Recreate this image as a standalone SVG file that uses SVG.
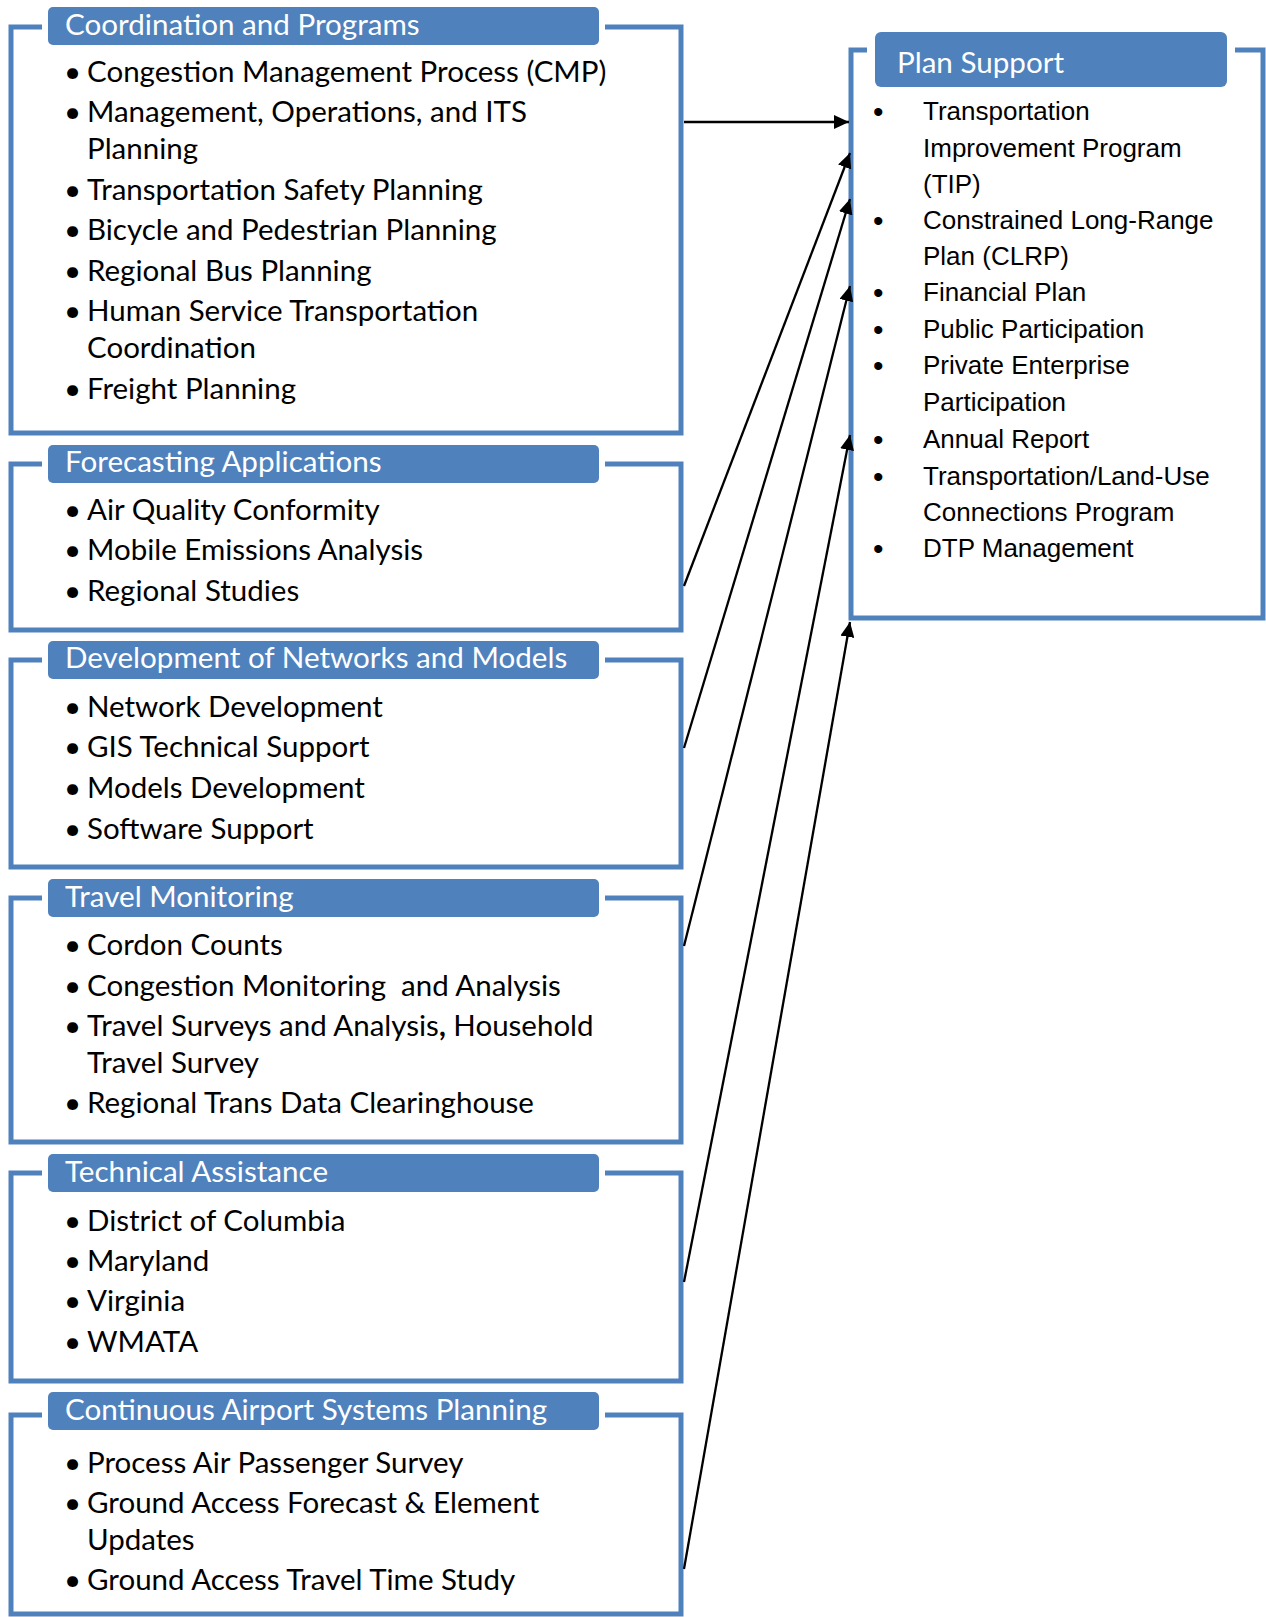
<svg xmlns="http://www.w3.org/2000/svg" width="1266" height="1617" viewBox="0 0 1266 1617">
<style>
.frame{fill:none;stroke:#4F81BD;stroke-width:5;stroke-linejoin:miter}
.hdr{fill:#4F81BD}
.ht{font-family:Lato,"Liberation Sans",sans-serif;font-size:29.6px;fill:#fff}
.t{font-family:Lato,"Liberation Sans",sans-serif;font-size:29.5px;fill:#000}
.ps{font-family:"Liberation Sans",Arial,sans-serif;font-size:26px;fill:#000}
.pb{font-size:30px}
.conn line{stroke:#000;stroke-width:2.3;marker-end:url(#ah)}
</style>
<defs>
<marker id="ah" markerUnits="userSpaceOnUse" markerWidth="16" markerHeight="14" refX="15" refY="7" orient="auto">
<path d="M0,0 L15,7 L0,14 Z" fill="#000"/>
</marker>
</defs>
<rect width="1266" height="1617" fill="#fff"/>

<g id="coordination">
<path class="frame" d="M42,27 H11 V433 H681 V27 H605"/>
<rect class="hdr" x="48" y="7" width="551" height="38" rx="5"/>
<text class="ht" x="65" y="35">Coordination and Programs</text>
<text class="t" x="87" y="82"><tspan x="64">•</tspan><tspan x="87">Congestion Management Process (CMP)</tspan></text>
<text class="t" x="87" y="122"><tspan x="64">•</tspan><tspan x="87">Management, Operations, and ITS</tspan></text>
<text class="t" x="87" y="159">Planning</text>
<text class="t" x="87" y="199.5"><tspan x="64">•</tspan><tspan x="87">Transportation Safety Planning</tspan></text>
<text class="t" x="87" y="240"><tspan x="64">•</tspan><tspan x="87">Bicycle and Pedestrian Planning</tspan></text>
<text class="t" x="87" y="280.5"><tspan x="64">•</tspan><tspan x="87">Regional Bus Planning</tspan></text>
<text class="t" x="87" y="321"><tspan x="64">•</tspan><tspan x="87">Human Service Transportation</tspan></text>
<text class="t" x="87" y="358">Coordination</text>
<text class="t" x="87" y="398.5"><tspan x="64">•</tspan><tspan x="87">Freight Planning</tspan></text>
</g>

<g id="forecasting">
<path class="frame" d="M42,464 H11 V630 H681 V464 H605"/>
<rect class="hdr" x="48" y="445" width="551" height="38" rx="5"/>
<text class="ht" x="65" y="472">Forecasting Applications</text>
<text class="t" x="87" y="520"><tspan x="64">•</tspan><tspan x="87">Air Quality Conformity</tspan></text>
<text class="t" x="87" y="560"><tspan x="64">•</tspan><tspan x="87">Mobile Emissions Analysis</tspan></text>
<text class="t" x="87" y="601"><tspan x="64">•</tspan><tspan x="87">Regional Studies</tspan></text>
</g>

<g id="networks">
<path class="frame" d="M42,660 H11 V867 H681 V660 H605"/>
<rect class="hdr" x="48" y="641" width="551" height="38" rx="5"/>
<text class="ht" x="65" y="668">Development of Networks and Models</text>
<text class="t" x="87" y="717"><tspan x="64">•</tspan><tspan x="87">Network Development</tspan></text>
<text class="t" x="87" y="757"><tspan x="64">•</tspan><tspan x="87">GIS Technical Support</tspan></text>
<text class="t" x="87" y="798"><tspan x="64">•</tspan><tspan x="87">Models Development</tspan></text>
<text class="t" x="87" y="839"><tspan x="64">•</tspan><tspan x="87">Software Support</tspan></text>
</g>

<g id="travel-monitoring">
<path class="frame" d="M42,898 H11 V1142 H681 V898 H605"/>
<rect class="hdr" x="48" y="879" width="551" height="38" rx="5"/>
<text class="ht" x="65" y="907">Travel Monitoring</text>
<text class="t" x="87" y="955"><tspan x="64">•</tspan><tspan x="87">Cordon Counts</tspan></text>
<text class="t" x="87" y="996" xml:space="preserve"><tspan x="64">•</tspan><tspan x="87">Congestion Monitoring  and Analysis</tspan></text>
<text class="t" x="87" y="1036"><tspan x="64">•</tspan><tspan x="87">Travel Surveys and Analysis<tspan font-weight="bold">,</tspan> Household</tspan></text>
<text class="t" x="87" y="1073">Travel Survey</text>
<text class="t" x="87" y="1113"><tspan x="64">•</tspan><tspan x="87">Regional Trans Data Clearinghouse</tspan></text>
</g>

<g id="technical-assistance">
<path class="frame" d="M42,1173 H11 V1381 H681 V1173 H605"/>
<rect class="hdr" x="48" y="1154" width="551" height="38" rx="5"/>
<text class="ht" x="65" y="1182">Technical Assistance</text>
<text class="t" x="87" y="1231"><tspan x="64">•</tspan><tspan x="87">District of Columbia</tspan></text>
<text class="t" x="87" y="1271"><tspan x="64">•</tspan><tspan x="87">Maryland</tspan></text>
<text class="t" x="87" y="1311"><tspan x="64">•</tspan><tspan x="87">Virginia</tspan></text>
<text class="t" x="87" y="1352"><tspan x="64">•</tspan><tspan x="87">WMATA</tspan></text>
</g>

<g id="airport">
<path class="frame" d="M42,1415 H11 V1614 H681 V1415 H605"/>
<rect class="hdr" x="48" y="1392" width="551" height="38" rx="5"/>
<text class="ht" x="65" y="1420">Continuous Airport Systems Planning</text>
<text class="t" x="87" y="1473"><tspan x="64">•</tspan><tspan x="87">Process Air Passenger Survey</tspan></text>
<text class="t" x="87" y="1513"><tspan x="64">•</tspan><tspan x="87">Ground Access Forecast &amp; Element</tspan></text>
<text class="t" x="87" y="1550">Updates</text>
<text class="t" x="87" y="1590"><tspan x="64">•</tspan><tspan x="87">Ground Access Travel Time Study</tspan></text>
</g>

<g id="plan-support">
<path class="frame" d="M867,50 H851 V618 H1263 V50 H1235"/>
<rect class="hdr" x="875" y="32" width="352" height="55" rx="6"/>
<text class="ht" x="897" y="73">Plan Support</text>
<text class="ps" y="120"><tspan class="pb" x="873" dy="2">•</tspan><tspan x="923" dy="-2">Transportation</tspan></text>
<text class="ps" x="923" y="157">Improvement Program</text>
<text class="ps" x="923" y="193">(TIP)</text>
<text class="ps" y="229"><tspan class="pb" x="873" dy="2">•</tspan><tspan x="923" dy="-2">Constrained Long-Range</tspan></text>
<text class="ps" x="923" y="265">Plan (CLRP)</text>
<text class="ps" y="301"><tspan class="pb" x="873" dy="2">•</tspan><tspan x="923" dy="-2">Financial Plan</tspan></text>
<text class="ps" y="338"><tspan class="pb" x="873" dy="2">•</tspan><tspan x="923" dy="-2">Public Participation</tspan></text>
<text class="ps" y="374"><tspan class="pb" x="873" dy="2">•</tspan><tspan x="923" dy="-2">Private Enterprise</tspan></text>
<text class="ps" x="923" y="411">Participation</text>
<text class="ps" y="448"><tspan class="pb" x="873" dy="2">•</tspan><tspan x="923" dy="-2">Annual Report</tspan></text>
<text class="ps" y="485"><tspan class="pb" x="873" dy="2">•</tspan><tspan x="923" dy="-2">Transportation/Land-Use</tspan></text>
<text class="ps" x="923" y="521">Connections Program</text>
<text class="ps" y="557"><tspan class="pb" x="873" dy="2">•</tspan><tspan x="923" dy="-2">DTP Management</tspan></text>
</g>

<g id="connectors" class="conn">
<line x1="684" y1="122" x2="849" y2="122"/>
<line x1="684" y1="586" x2="850" y2="153"/>
<line x1="684" y1="748" x2="850" y2="199"/>
<line x1="684" y1="946" x2="850" y2="286"/>
<line x1="684" y1="1282" x2="850" y2="435"/>
<line x1="684" y1="1569" x2="850" y2="622"/>
</g>
</svg>
